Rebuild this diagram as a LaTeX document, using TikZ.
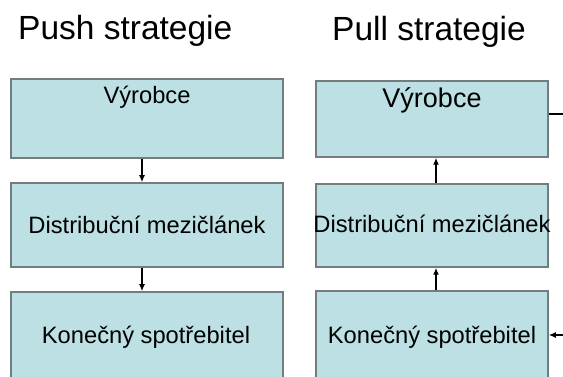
\documentclass[tikz,border=0pt]{standalone}
\usepackage{fontspec}
\setmainfont{Liberation Sans}
\usetikzlibrary{arrows.meta}
\definecolor{boxfill}{RGB}{188,224,227}
\definecolor{boxline}{RGB}{115,125,125}
\begin{document}
\begin{tikzpicture}[x=1pt,y=-1pt,
  box/.style={rectangle,draw=boxline,fill=boxfill,line width=1.5pt,inner sep=0pt},
  lbl/.style={anchor=base,inner sep=0pt,font=\fontsize{23.7}{28}\selectfont},
  ttl/.style={anchor=base west,inner sep=0pt,font=\fontsize{33.5}{40}\selectfont},
  arr/.style={line width=2pt,-{Latex[length=7pt,width=6pt]}},
  ln/.style={line width=2pt}]
\clip (0,0) rectangle (563,377);
\fill[white] (0,0) rectangle (563,377);
% titles
\node[ttl] (tpush) at (18,40) {Push strategie};
\node[ttl] (tpull) at (332,41) {Pull strategie};
% left column
\node[box,minimum width=272pt,minimum height=79pt] (L1) at (147,118.5) {};
\node[box,minimum width=272pt,minimum height=84pt] (L2) at (147,225) {};
\node[box,minimum width=272pt,minimum height=108pt] (L3) at (147,346) {};
\node[lbl] (l1t) at (147,104) {Výrobce};
\node[lbl] (l2t) at (147,234) {Distribuční mezičlánek};
\node[lbl] (l3t) at (146,343) {Konečný spotřebitel};
% right column
\node[box,minimum width=232pt,minimum height=76pt] (R1) at (432,119) {};
\node[box,minimum width=232pt,minimum height=83pt] (R2) at (432,225.5) {};
\node[box,minimum width=232pt,minimum height=109pt] (R3) at (432,345.5) {};
\node[lbl,font=\fontsize{27}{32}\selectfont] (r1t) at (432,108) {Výrobce};
\node[lbl] (r2t) at (432,233) {Distribuční mezičlánek};
\node[lbl] (r3t) at (432,343) {Konečný spotřebitel};
% arrows
\draw[arr] ([xshift=-5pt]L1.south) -- ([xshift=-5pt]L2.north);
\draw[arr] ([xshift=-5pt]L2.south) -- ([xshift=-5pt]L3.north);
\draw[arr] ([xshift=4pt]R2.north) -- ([xshift=4pt]R1.south);
\draw[arr] ([xshift=4pt]R3.north) -- ([xshift=4pt]R2.south);
\coordinate (e1) at (565,114);
\coordinate (e2) at (565,335);
\draw[ln] (R1.east |- e1) -- (e1);
\draw[arr] (e2) -- (R3.east |- e2);
\end{tikzpicture}
\end{document}
